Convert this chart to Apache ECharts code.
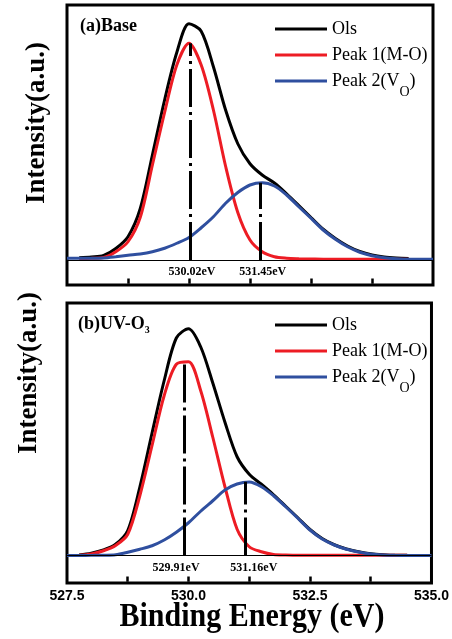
<!DOCTYPE html>
<html>
<head>
<meta charset="utf-8">
<script src="https://cdn.jsdelivr.net/npm/echarts@6/dist/echarts.min.js"></script>
<style>html,body{margin:0;padding:0;background:#fff;}#c{width:452px;height:639px;}</style>
</head>
<body>
<div id="c"></div>
<script>
// Binding energy grid (eV)
var energy = [527.5,527.75,528.0,528.25,528.5,528.75,529.0,529.25,529.5,529.75,530.0,530.25,530.5,530.75,531.0,531.25,531.5,531.75,532.0,532.25,532.5,532.75,533.0,533.25,533.5,533.75,534.0,534.25,534.5,534.75,535.0];

// Panel (a) Base
var baseO1s   = [null,0.9,1.2,1.8,4.6,9.3,20.5,42,64,83,94.5,91.5,77.3,60,46.5,38.5,34,30.8,26.5,21.8,17,12.3,8.6,5.6,3.4,2.0,1.2,0.8,0.6,null,null];
var basePeak1 = [null,0.5,0.7,1.0,3.3,7.3,17,38,59,78,86.7,78,60,37.5,19,8,3.3,1.3,0.7,0.5,0.4,0.3,0.3,0.3,0.3,0.3,0.3,0.3,0.3,null,null];
var basePeak2 = [0.7,0.7,0.7,0.8,1.3,1.9,2.4,3.3,4.7,6.7,9,12.9,17.3,22.7,27,30,30.9,29.6,26,21.3,16.7,12,8.3,5.3,3.1,1.7,0.9,0.5,0.3,0.3,0.3];

// Panel (b) UV-O3
var uvO1s   = [null,0.2,0.9,2.2,4.5,10,27.5,49,70,87,90.7,83.5,69,53.3,39.5,32.5,28.5,24.3,19.7,15.1,10.4,6.8,4.3,2.6,1.5,0.7,0.3,0.1,0.1,null,null];
var uvPeak1 = [null,0.1,0.6,1.9,4.0,8.5,24,44,64,76.5,77.5,66,47.3,27.5,10.5,3.5,1.5,0.4,0.2,0.1,0.1,0.1,0.1,0.1,0.1,0.1,0.1,0.1,0.1,null,null];
var uvPeak2 = [0,0,0.05,0.1,0.3,1.3,2.5,3.9,6.2,9.3,13.1,17.7,21.9,26.2,28.6,29.4,27.5,23.9,19.5,14.9,10.2,6.6,4.2,2.5,1.4,0.6,0.2,0.05,0,0,0];

// Fitted peak positions and heights
var basePeakPos = [530.02, 531.45];
var basePeakHeight = [86.7, 30.9];
var basePeakLabels = ['530.02eV', '531.45eV'];
var uvPeakPos = [529.91, 531.16];
var uvPeakHeight = [78.2, 29.5];
var uvPeakLabels = ['529.91eV', '531.16eV'];

// Axis ticks and labels
var xTickValues = [528.75, 530.0, 531.25, 532.5, 533.75];
var xTickLabels = ['527.5', '530.0', '532.5', '535.0'];
var seriesNames = ['Ols', 'Peak 1(M-O)', 'Peak 2(VO)'];
var colors = ['#000000', '#ED1C24', '#2F4F9F'];
var yRanges = [[-10, 102], [-11, 101]];

function pairs(arr) {
  var out = [];
  for (var i = 0; i < energy.length; i++) {
    if (arr[i] !== null) out.push([energy[i], arr[i]]);
  }
  return out;
}

function markLines(pos, h) {
  var d = [{ yAxis: 0, lineStyle: { width: 1, type: 'solid', color: '#000' } }];
  for (var i = 0; i < pos.length; i++) {
    d.push([{ coord: [pos[i], 0] }, { coord: [pos[i], h[i]] }]);
  }
  return d;
}

function tickLines(gi) {
  var lo = yRanges[gi][0];
  var d = [];
  for (var i = 0; i < xTickValues.length; i++) {
    d.push([{ coord: [xTickValues[i], lo + 0.5] }, { coord: [xTickValues[i], lo + 2.6] }]);
  }
  return d;
}

function markPoints(pos, labels, offsets) {
  var d = [];
  for (var i = 0; i < pos.length; i++) {
    d.push({ coord: [pos[i], 0], name: labels[i], label: { offset: offsets[i] } });
  }
  return d;
}

function makeSeries(gi, arrs, pos, h, labels, offsets) {
  var s = [];
  for (var k = 0; k < 3; k++) {
    var obj = {
      name: seriesNames[k],
      type: 'line',
      xAxisIndex: gi,
      yAxisIndex: gi,
      data: pairs(arrs[k]),
      symbol: 'none',
      smooth: 0.3,
      lineStyle: { width: 3, color: colors[k] },
      itemStyle: { color: colors[k] },
      z: 2 + k
    };
    if (k === 2) {
      obj.markLine = {
        silent: true,
        symbol: ['none', 'none'],
        label: { show: false },
        lineStyle: { color: '#000', width: 3, type: [38, 5, 3, 5] },
        data: markLines(pos, h)
      };
      obj.markPoint = {
        silent: true,
        symbol: 'circle',
        symbolSize: 0,
        itemStyle: { color: 'rgba(0,0,0,0)' },
        label: {
          show: true,
          position: 'bottom',
          distance: 6,
          formatter: '{b}',
          color: '#000',
          fontFamily: 'Liberation Serif',
          fontWeight: 'bold',
          fontSize: 12
        },
        data: markPoints(pos, labels, offsets)
      };
    }
    s.push(obj);
  }
  // dedicated carrier series for the bottom tick marks
  s.push({
    name: 'ticks' + gi,
    type: 'line',
    xAxisIndex: gi,
    yAxisIndex: gi,
    data: [],
    symbol: 'none',
    z: 10,
    markLine: {
      silent: true,
      symbol: ['none', 'none'],
      label: { show: false },
      lineStyle: { color: '#000', width: 2.5, type: 'solid' },
      data: tickLines(gi)
    }
  });
  return s;
}

var legendText = {
  fontFamily: 'Liberation Serif',
  fontSize: 18,
  color: '#000',
  lineHeight: 20,
  rich: {
    sub: { fontFamily: 'Liberation Serif', fontSize: 14, color: '#000', lineHeight: 20, padding: [22, 0, 0, 0] }
  }
};
function legendFmt(n) { return n === 'Peak 2(VO)' ? 'Peak 2(V{sub|O})' : n; }

function legendCfg(names, top) {
  return { data: names, orient: 'vertical', left: 275, top: top, itemWidth: 52, itemHeight: 3, itemGap: 6,
    icon: 'rect', padding: 0, textStyle: legendText, formatter: legendFmt, selectedMode: false };
}

function xAxisCfg(gi, showLabels) {
  return {
    gridIndex: gi,
    type: 'value',
    position: 'bottom',
    min: 527.5,
    max: 535,
    interval: 1.25,
    axisLine: { show: false, onZero: false },
    axisTick: { show: false },
    splitLine: { show: false },
    axisLabel: {
      show: showLabels,
      margin: 6,
      showMinLabel: true,
      showMaxLabel: true,
      color: '#000',
      fontFamily: 'Liberation Sans',
      fontWeight: 'bold',
      fontSize: 14,
      formatter: function (v) {
        var t = v.toFixed(1);
        return xTickLabels.indexOf(t) >= 0 ? t : '';
      }
    }
  };
}

var chart = echarts.init(document.getElementById('c'), null, { renderer: 'canvas' });
var option = {
  animation: false,
  backgroundColor: '#fff',
  title: [
    { text: '(a)Base', left: 80, top: 17, padding: 0,
      textStyle: { fontFamily: 'Liberation Serif', fontWeight: 'bold', fontSize: 18, color: '#000' } },
    { text: '(b)UV-O{sub|3}', left: 78, top: 314, padding: 0,
      textStyle: { fontFamily: 'Liberation Serif', fontWeight: 'bold', fontSize: 18, color: '#000', lineHeight: 20,
        rich: { sub: { fontFamily: 'Liberation Serif', fontWeight: 'bold', fontSize: 10, color: '#000', lineHeight: 20, padding: [12, 0, 0, 0] } } } }
  ],
  legend: [
    legendCfg(seriesNames.slice(0, 2), 19),
    legendCfg(seriesNames.slice(2), 63),
    legendCfg(seriesNames.slice(0, 2), 315),
    legendCfg(seriesNames.slice(2), 359)
  ],
  grid: [
    { left: 67, top: 5, width: 366, height: 280, show: true, borderColor: '#000', borderWidth: 3, backgroundColor: 'transparent' },
    { left: 67, top: 303, width: 366, height: 280, show: true, borderColor: '#000', borderWidth: 3, backgroundColor: 'transparent' }
  ],
  xAxis: [xAxisCfg(0, false), xAxisCfg(1, true)],
  yAxis: [
    { gridIndex: 0, type: 'value', min: yRanges[0][0], max: yRanges[0][1], show: false },
    { gridIndex: 1, type: 'value', min: yRanges[1][0], max: yRanges[1][1], show: false }
  ],
  graphic: [
    { type: 'text', x: 37, y: 123, rotation: Math.PI / 2,
      style: { text: 'Intensity(a.u.)', fill: '#000', font: 'bold 27px "Liberation Serif"', textAlign: 'center', textVerticalAlign: 'middle' } },
    { type: 'text', x: 29, y: 373, rotation: Math.PI / 2,
      style: { text: 'Intensity(a.u.)', fill: '#000', font: 'bold 27px "Liberation Serif"', textAlign: 'center', textVerticalAlign: 'middle' } },
    { type: 'text', x: 252, y: 617, scaleY: 1.15,
      style: { text: 'Binding Energy (eV)', fill: '#000', font: 'bold 30px "Liberation Serif"', textAlign: 'center', textVerticalAlign: 'middle' } }
  ],
  series: [].concat(
    makeSeries(0, [baseO1s, basePeak1, basePeak2], basePeakPos, basePeakHeight, basePeakLabels, [[2, 0], [3, 0]]),
    makeSeries(1, [uvO1s, uvPeak1, uvPeak2], uvPeakPos, uvPeakHeight, uvPeakLabels, [[-8, 0], [9, 0]])
  )
};
chart.setOption(option);
</script>
</body>
</html>
